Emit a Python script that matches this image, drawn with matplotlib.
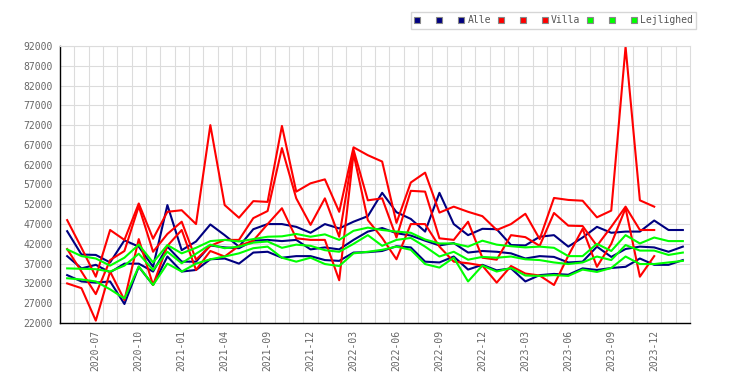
import numpy as np
import matplotlib
matplotlib.use('Agg')
import matplotlib.pyplot as plt
from matplotlib.lines import Line2D

plt.rcParams['font.family'] = ['DejaVu Sans Mono', 'DejaVu Sans']

# Categories (a couple of months are missing in 2021)
months = ['2020-05', '2020-06', '2020-07', '2020-08', '2020-09', '2020-10', '2020-11', '2020-12',
          '2021-01', '2021-02', '2021-03', '2021-04', '2021-05', '2021-08', '2021-09', '2021-10',
          '2021-11', '2021-12', '2022-01', '2022-02', '2022-03', '2022-04', '2022-05', '2022-06',
          '2022-07', '2022-08', '2022-09', '2022-10', '2022-11', '2022-12', '2023-01', '2023-02',
          '2023-03', '2023-04', '2023-05', '2023-06', '2023-07', '2023-08', '2023-09', '2023-10',
          '2023-11', '2023-12', '2024-01', '2024-02']

# Alle
alle_hi = [45200, 39300, 39200, 37300, 42900, 41300, 36200, 51800, 40400, 42600, 46900, 44200, 41300, 45700,
           47000, 47000, 46300, 44800, 47000, 45900, 47600, 49000, 54900, 50000, 48300, 45100, 54900, 47000,
           44200, 45800, 45700, 41700, 41600, 43800, 44200, 41300, 43600, 46300, 44800, 45100, 45100, 47900,
           45500, 45500]
alle_mid = [38900, 35800, 36700, 34800, 37000, 37000, 35000, 41300, 37500, 37500, 41600, 41100, 40900, 42800,
            43000, 42700, 43000, 40600, 41100, 40600, 43000, 45100, 46000, 44700, 44100, 42800, 41600, 42200,
            39800, 40200, 40000, 39600, 38300, 38900, 38700, 37300, 37500, 41300, 38700, 40700, 41300, 41100,
            40000, 41300]
alle_lo = [34100, 32500, 32200, 32500, 26800, 36200, 31600, 38800, 35000, 35400, 38100, 38300, 37000, 39800,
           40000, 38500, 38900, 38900, 37900, 37700, 39800, 39900, 40200, 41400, 41100, 37500, 37300, 38800,
           35500, 36700, 35300, 35800, 32500, 34100, 34400, 34200, 35800, 35400, 35900, 36200, 38300, 36700,
           36700, 37900]

# Villa
villa_hi = [48000, 41000, 33700, 45500, 43000, 52200, 43300, 50100, 50500, 47000, 72000, 51800, 48600, 52800,
            52600, 71800, 55200, 57300, 58300, 50100, 66400, 64400, 62800, 47300, 57500, 60000, 49900, 51400,
            50100, 49000, 45500, 47000, 49600, 43200, 53600, 53100, 52900, 48700, 50400, 91800, 53000, 51400,
            None, None]
villa_mid = [40700, 35000, 29300, 37900, 40200, 51500, 40000, 44500, 47600, 38000, 41500, 43000, 43000, 48500,
             50300, 66200, 53500, 46800, 53500, 43800, 65800, 53000, 53500, 43600, 55400, 55200, 43400, 43000,
             47600, 38500, 38000, 44200, 43700, 41500, 49800, 46600, 46500, 41500, 46300, 51400, 45500, 45500,
             None, None]
villa_lo = [32000, 30800, 22600, 35000, 27800, 43200, 31600, 41500, 45500, 35400, 40200, 38800, 41500, 42800,
            47000, 51000, 43400, 43000, 43000, 32800, 64800, 48000, 43500, 38100, 47000, 47000, 41300, 37500,
            37100, 36500, 32200, 36400, 34500, 34000, 31600, 39000, 45800, 36200, 42000, 51000, 33700, 38900,
            None, None]

# Lejlighed
lejl_hi = [40600, 38900, 38300, 36500, 38500, 41800, 37300, 41700, 39600, 41000, 42700, 43000, 42600, 43200,
           43800, 43900, 44500, 43800, 44400, 43000, 45300, 46100, 45500, 45100, 44800, 43100, 42100, 42100,
           41300, 42800, 41800, 41400, 41100, 41300, 41000, 38900, 38900, 42000, 40200, 44200, 42100, 43600,
           42700, 42700]
lejl_mid = [35800, 35700, 35600, 35000, 36500, 39500, 35400, 40000, 37100, 39500, 41800, 40900, 41300, 42300,
            42600, 41000, 41800, 41500, 40400, 40000, 42000, 44200, 41500, 43000, 43500, 41300, 38800, 40000,
            38000, 38700, 38500, 38800, 38100, 37900, 37300, 36900, 37300, 38800, 37900, 41700, 40300, 40300,
            39200, 39800]
lejl_lo = [33300, 33000, 32500, 30500, 28200, 36300, 31600, 37000, 35000, 37000, 38100, 38800, 39600, 40900,
           41300, 38500, 37500, 38500, 36900, 36400, 39600, 40000, 40500, 41300, 40500, 36900, 36000, 38500,
           32500, 36500, 35000, 35900, 34000, 33900, 34100, 33900, 35500, 34900, 35900, 38800, 36900, 36900,
           37300, 37700]

NAVY = '#000080'
RED = '#ff0000'
LIME = '#00ff00'
GRID = '#dcdcdc'
TXT = '#666666'

series = [(alle_hi, NAVY), (alle_mid, NAVY), (alle_lo, NAVY),
          (villa_hi, RED), (villa_mid, RED), (villa_lo, RED),
          (lejl_hi, LIME), (lejl_mid, LIME), (lejl_lo, LIME)]
legend_labels = [' ', ' ', 'Alle', ' ', ' ', 'Villa', ' ', ' ', 'Lejlighed']

fig = plt.figure(figsize=(7.5, 3.85), dpi=100)
ax = fig.add_axes([60 / 750, 1 - 323 / 385, 630 / 750, 277 / 385])

x = np.arange(len(months))
for vals, col in series:
    ax.plot(x, np.array(vals, dtype=float), color=col, lw=1.5)

ax.set_xlim(-0.5, len(months) - 0.5)
ax.set_ylim(22000, 92000)
ax.set_yticks(np.arange(22000, 92001, 5000))
ax.set_xticks(x[2::3])
ax.set_xticklabels(months[2::3], rotation=90)
ax.set_xticks(x[:-1] + 0.5, minor=True)
ax.grid(which='minor', axis='x', color=GRID, lw=0.8)
ax.grid(which='major', axis='y', color=GRID, lw=0.8)
ax.set_axisbelow(True)
ax.tick_params(which='both', length=0, labelsize=7, colors=TXT)
ax.tick_params(axis='y', pad=5)
ax.tick_params(axis='x', pad=5)

for s in ['left', 'bottom']:
    ax.spines[s].set_color('black')
    ax.spines[s].set_linewidth(1)
for s in ['top', 'right']:
    ax.spines[s].set_color(GRID)
    ax.spines[s].set_linewidth(0.8)

handles = [Line2D([], [], marker='s', linestyle='none', markersize=4.5,
                  markerfacecolor=col, markeredgecolor='#888888', markeredgewidth=0.8)
           for _, col in series]
fig.legend(handles, legend_labels, ncol=9, loc='upper left',
           bbox_to_anchor=(411 / 750, 1 - 12 / 385), frameon=True, fancybox=False,
           edgecolor='#cccccc', fontsize=7, labelcolor='#555555',
           handlelength=0.6, handletextpad=0.35, columnspacing=0.7, borderpad=0.35,
           borderaxespad=0)

fig.savefig('out.png', dpi=100)
